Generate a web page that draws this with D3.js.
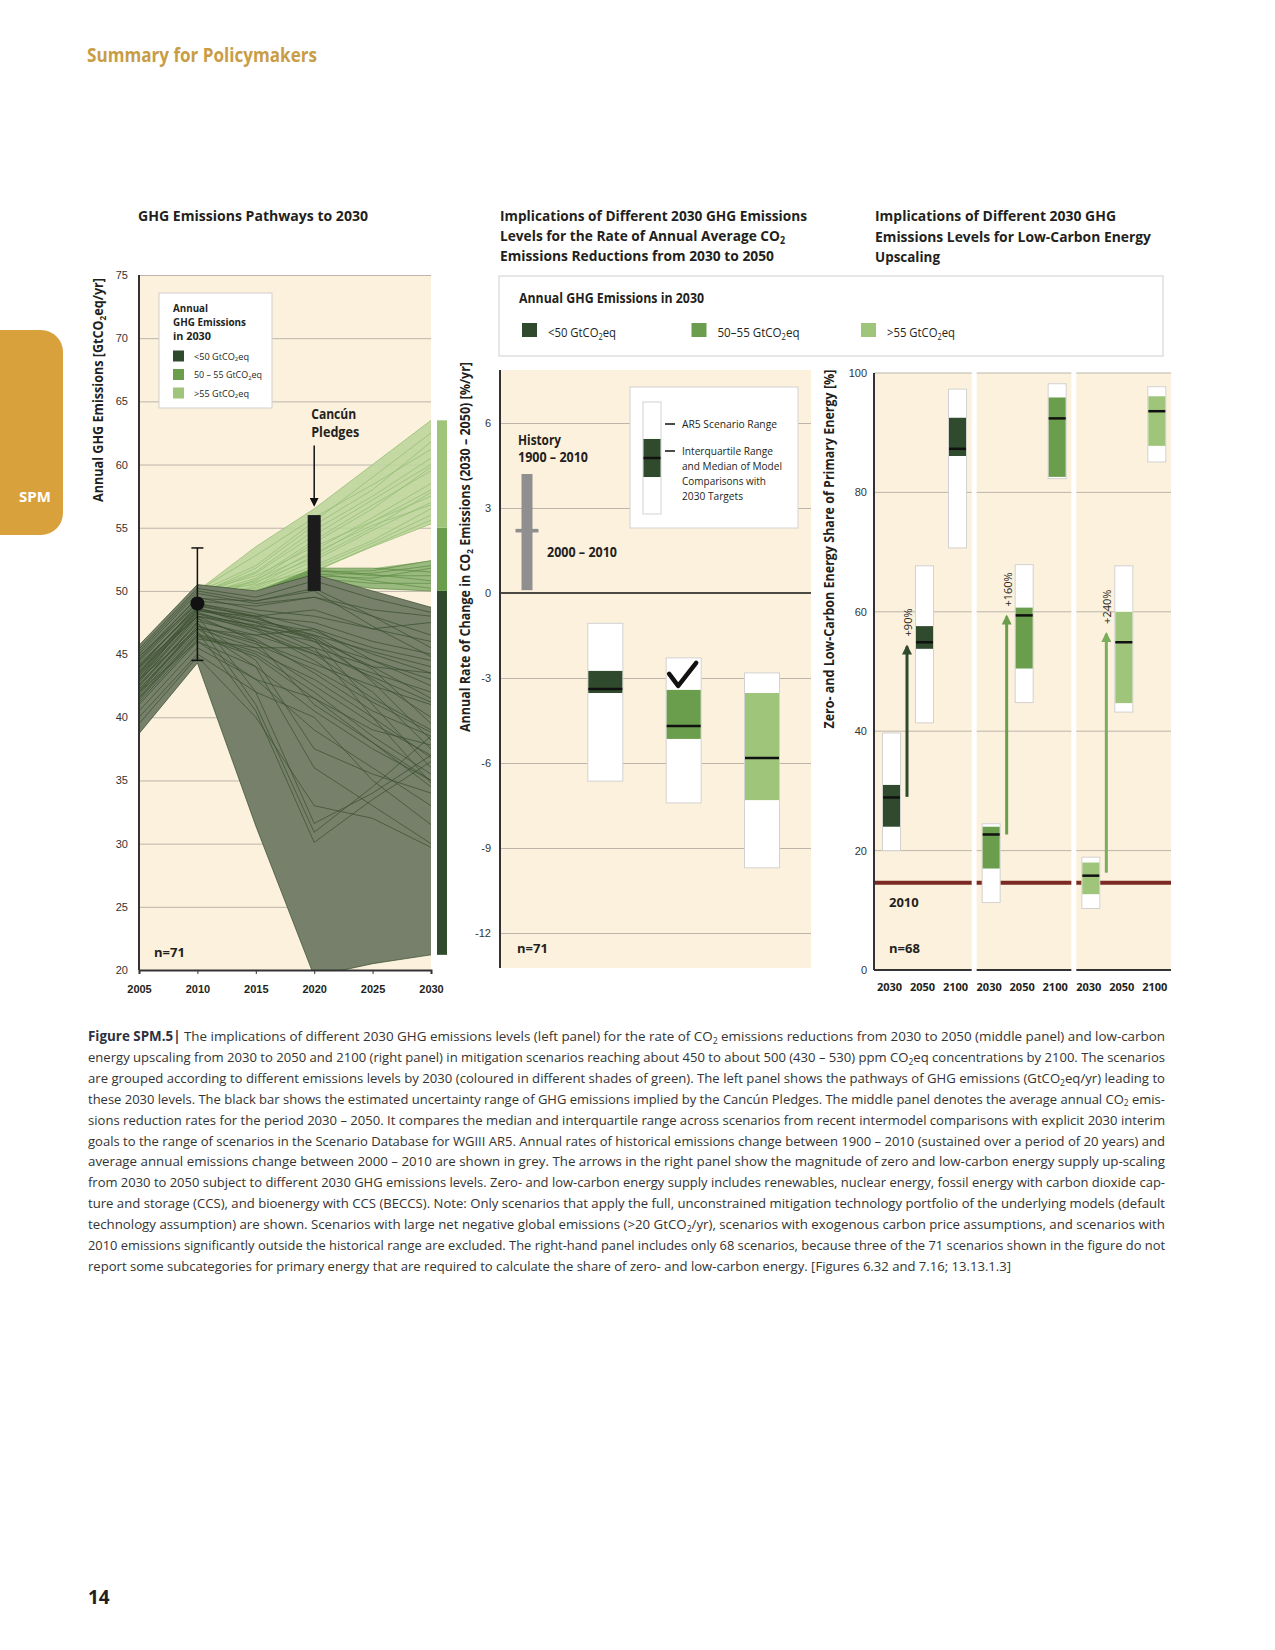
<!DOCTYPE html>
<html>
<head>
<meta charset="utf-8">
<script src="https://cdnjs.cloudflare.com/ajax/libs/d3/7.8.5/d3.min.js"></script>
<style>
  body { margin: 0; background: #fff; }
</style>
</head>
<body>
<div id="chart"></div>
<script>
// ---------- data ----------
var pathYears = [2005, 2010, 2015, 2020, 2025, 2030];

// scenarios with < 50 GtCO2eq in 2030
var darkRuns = [
  [38.7, 44.3, 31.4, 19.5, 20.5, 21.2],
  [45.7, 50.5, 50.0, 51.3, 50.0, 48.7],
  [44.5, 49.2, 48.8, 49.5, 48.0, 46.5],
  [44.0, 48.8, 48.0, 47.5, 46.0, 45.0],
  [43.5, 48.5, 47.5, 46.5, 45.2, 44.0],
  [43.0, 48.0, 47.0, 46.0, 44.5, 43.0],
  [42.5, 47.6, 46.5, 45.0, 43.5, 42.0],
  [42.0, 47.2, 46.0, 44.2, 42.5, 41.0],
  [44.8, 49.0, 48.0, 46.0, 43.0, 40.0],
  [43.8, 48.3, 47.0, 44.5, 41.5, 39.0],
  [42.8, 47.8, 46.2, 43.5, 40.5, 38.5],
  [42.2, 47.0, 45.5, 42.5, 39.5, 37.0],
  [41.5, 46.5, 45.0, 42.0, 38.5, 35.5],
  [41.0, 46.0, 44.0, 40.5, 37.5, 35.0],
  [43.2, 48.2, 46.8, 45.0, 42.0, 37.5],
  [44.2, 48.6, 47.8, 46.5, 43.8, 39.5],
  [42.6, 47.4, 44.5, 37.5, 35.5, 34.0],
  [43.6, 48.0, 42.0, 31.6, 34.0, 37.0],
  [42.4, 47.5, 41.0, 30.9, 34.5, 38.5],
  [41.8, 46.8, 40.5, 30.1, 33.5, 36.5],
  [43.0, 47.0, 44.0, 36.0, 33.0, 30.0],
  [44.6, 49.5, 48.5, 48.0, 47.0, 47.5],
  [45.0, 49.8, 49.0, 49.5, 48.5, 48.0],
  [43.4, 48.4, 48.0, 48.5, 47.0, 46.0],
  [42.0, 47.0, 46.5, 47.0, 45.5, 44.5],
  [41.2, 46.2, 45.5, 45.5, 44.0, 43.5],
  [44.0, 48.0, 46.0, 41.0, 38.0, 35.0],
  [43.0, 48.5, 47.5, 45.5, 40.0, 34.8],
  [42.0, 46.0, 43.0, 39.0, 36.0, 33.0],
  [40.0, 45.0, 42.0, 40.0, 35.0, 31.5],
  [40.5, 45.5, 43.0, 41.5, 38.0, 34.5],
  [44.4, 49.0, 48.2, 47.0, 44.5, 42.5],
  [43.6, 48.6, 47.6, 46.8, 45.0, 43.5],
  [42.8, 48.0, 47.3, 46.2, 44.0, 41.5],
  [45.2, 50.0, 49.2, 50.2, 48.0, 45.5],
  [41.6, 46.6, 45.2, 43.0, 40.0, 36.8],
  [44.8, 49.4, 49.2, 50.0, 47.2, 44.8],
  [43.3, 48.2, 47.2, 46.4, 42.8, 38.2],
  [42.2, 47.2, 45.8, 43.8, 41.2, 38.8],
  [45.4, 50.2, 49.5, 50.8, 49.4, 48.3],
  [39.5, 44.8, 40.0, 33.0, 32.0, 29.7],
  [43.9, 48.9, 47.9, 46.2, 41.0, 36.0],
  [41.4, 46.4, 44.8, 41.5, 39.0, 37.8],
  [44.1, 48.7, 47.1, 45.2, 43.2, 41.2]
];

// scenarios with 50-55 GtCO2eq in 2030
var midRuns = [
  [44.0, 49.5, 49.6, 51.5, 51.6, 52.4],
  [43.5, 49.0, 49.7, 51.2, 51.0, 51.8],
  [44.5, 49.8, 49.8, 51.6, 51.2, 51.2],
  [43.0, 48.5, 49.5, 51.0, 50.6, 50.6],
  [44.2, 49.3, 49.9, 51.4, 50.8, 50.2],
  [42.8, 48.2, 49.2, 50.8, 50.2, 50.0],
  [45.0, 50.0, 49.9, 51.8, 51.8, 51.5],
  [43.8, 49.1, 49.6, 51.3, 51.4, 52.0],
  [44.6, 49.6, 49.8, 51.7, 51.3, 50.8]
];

// scenarios with > 55 GtCO2eq in 2030
var lightRuns = [
  [45.0, 50.0, 53.5, 56.5, 60.0, 63.5],
  [44.8, 49.9, 52.0, 55.5, 59.0, 62.5],
  [44.5, 49.8, 51.5, 54.8, 57.5, 60.5],
  [44.0, 49.6, 51.0, 54.0, 56.8, 59.5],
  [44.3, 49.7, 50.8, 53.8, 56.5, 59.8],
  [43.8, 49.5, 50.6, 53.2, 55.8, 58.5],
  [43.5, 49.4, 50.4, 52.8, 55.5, 58.0],
  [44.6, 49.9, 51.2, 53.5, 55.5, 57.5],
  [43.2, 49.2, 50.3, 52.4, 54.8, 57.0],
  [44.1, 49.6, 50.2, 52.0, 54.0, 56.5],
  [43.0, 49.0, 50.0, 51.8, 53.8, 56.0],
  [44.9, 50.0, 50.5, 51.6, 53.5, 55.3],
  [43.6, 49.3, 50.1, 51.5, 53.6, 55.6],
  [44.4, 49.8, 50.7, 52.6, 55.0, 57.8],
  [43.9, 49.6, 51.4, 54.4, 57.2, 60.0],
  [44.7, 50.0, 52.8, 55.8, 58.4, 61.2],
  [43.3, 49.1, 50.9, 53.0, 55.2, 56.8],
  [44.2, 49.7, 51.8, 55.2, 58.0, 61.8]
];

var groupNames = ["<50 GtCO₂eq", "50 – 55 GtCO₂eq", ">55 GtCO₂eq"];
var groupBreaks = [50, 55];
var leftTicks = [20, 25, 30, 35, 40, 45, 50, 55, 60, 65, 70, 75];
var obs2010 = [44.5, 49.0, 53.4];   // low, central, high
var pledgeRange = [50, 56];

// middle panel: rate of change of CO2 emissions 2030-2050 [%/yr]
var rateCats = ["1900–2010", "<50", "50–55", ">55"];
var histRange = [0.1, 4.2];
var histMean = 2.2;
var rateMin = [-6.64, -7.41, -9.7];
var rateQ1 = [-3.53, -5.15, -7.31];
var rateMed = [-3.39, -4.69, -5.82];
var rateQ3 = [-2.75, -3.42, -3.53];
var rateMax = [-1.07, -2.29, -2.82];
var rateTicks = [-12, -9, -6, -3, 0, 3, 6];

// right panel: zero- and low-carbon share of primary energy [%]
var shareYears = ["2030", "2050", "2100"];
var shareMin = [[20.0, 41.4, 70.7], [11.3, 44.8, 82.3], [10.3, 43.2, 85.1]];
var shareQ1 = [[24.0, 53.8, 86.1], [17.0, 50.5, 82.6], [12.7, 44.7, 87.8]];
var shareMed = [[28.9, 54.9, 87.3], [22.7, 59.4, 92.4], [15.8, 54.9, 93.6]];
var shareQ3 = [[31.0, 57.6, 92.5], [24.0, 60.7, 95.9], [18.0, 60.0, 96.1]];
var shareMax = [[39.7, 67.7, 97.3], [24.5, 67.9, 98.2], [18.9, 67.7, 97.7]];
var arrowFrom = [29.0, 22.7, 16.3];
var arrowTo = [54.2, 59.2, 56.3];
var arrowLabels = ["+90%", "+160%", "+240%"];
var share2010 = 14.6;
var shareTicks = [0, 20, 40, 60, 80, 100];

var captionLines = [
  "The implications of different 2030 GHG emissions levels (left panel) for the rate of CO₂ emissions reductions from 2030 to 2050 (middle panel) and low-carbon",
  "energy upscaling from 2030 to 2050 and 2100 (right panel) in mitigation scenarios reaching about 450 to about 500 (430 – 530) ppm CO₂eq concentrations by 2100. The scenarios",
  "are grouped according to different emissions levels by 2030 (coloured in different shades of green). The left panel shows the pathways of GHG emissions (GtCO₂eq/yr) leading to",
  "these 2030 levels. The black bar shows the estimated uncertainty range of GHG emissions implied by the Cancún Pledges. The middle panel denotes the average annual CO₂ emis-",
  "sions reduction rates for the period 2030 – 2050. It compares the median and interquartile range across scenarios from recent intermodel comparisons with explicit 2030 interim",
  "goals to the range of scenarios in the Scenario Database for WGIII AR5. Annual rates of historical emissions change between 1900 – 2010 (sustained over a period of 20 years) and",
  "average annual emissions change between 2000 – 2010 are shown in grey. The arrows in the right panel show the magnitude of zero and low-carbon energy supply up-scaling",
  "from 2030 to 2050 subject to different 2030 GHG emissions levels. Zero- and low-carbon energy supply includes renewables, nuclear energy, fossil energy with carbon dioxide cap-",
  "ture and storage (CCS), and bioenergy with CCS (BECCS). Note: Only scenarios that apply the full, unconstrained mitigation technology portfolio of the underlying models (default",
  "technology assumption) are shown. Scenarios with large net negative global emissions (>20 GtCO₂/yr), scenarios with exogenous carbon price assumptions, and scenarios with",
  "2010 emissions significantly outside the historical range are excluded. The right-hand panel includes only 68 scenarios, because three of the 71 scenarios shown in the figure do not",
  "report some subcategories for primary energy that are required to calculate the share of zero- and low-carbon energy. [Figures 6.32 and 7.16; 13.13.1.3]"
];

// ---------- styles ----------
var cream = "#fcf1dc";
var gridCol = "#bdb5ac";
var ink = "#231f20";
var groupColors = ["#2f4a2d", "#6b9e4c", "#9fc57b"];
var fillColors = ["#76806a", "#8fb273", "#bcd59c"];
var lineColors = ["#3b5030", "#5e8d44", "#93bc72"];

var svg = d3.select("#chart").append("svg")
  .attr("width", 1275)
  .attr("height", 1650)
  .style("font-family", "'Liberation Sans Narrow', 'Open Sans', 'Noto Sans', sans-serif");

var defs = svg.append("defs");

// squeeze text to the width it has in the print
function fit(sel, len) {
  return sel.attr("textLength", len).attr("lengthAdjust", "spacingAndGlyphs");
}

// text with subscript 2 (written as ₂ in the strings)
function rich(sel, str, fs) {
  str.split("₂").forEach(function(part, i) {
    if (i > 0) {
      sel.append("tspan").attr("font-size", fs * 0.65).attr("dy", fs * 0.2).text("2");
      sel.append("tspan").attr("dy", -fs * 0.2).text(part);
    } else {
      sel.append("tspan").text(part);
    }
  });
  return sel;
}

function txt(parent, x, y, str, fs, weight) {
  var t = parent.append("text")
    .attr("x", x)
    .attr("y", y)
    .attr("font-size", fs)
    .attr("font-weight", weight || 400)
    .attr("fill", ink);
  return rich(t, str, fs);
}

function vlabel(parent, x, y, str, fs, len) {
  var t = parent.append("text")
    .attr("transform", `translate(${x}, ${y}) rotate(-90)`)
    .attr("text-anchor", "middle")
    .attr("dy", "0.35em")
    .attr("font-size", fs)
    .attr("font-weight", 700)
    .attr("fill", ink);
  rich(t, str, fs);
  return fit(t, len);
}

function arrowMarker(id, color, w, h) {
  defs.append("marker")
    .attr("id", id)
    .attr("viewBox", "0 0 10 10")
    .attr("refX", 8)
    .attr("refY", 5)
    .attr("markerUnits", "userSpaceOnUse")
    .attr("markerWidth", w)
    .attr("markerHeight", h)
    .attr("orient", "auto")
    .append("path")
    .attr("d", "M0,0 L10,5 L0,10 z")
    .attr("fill", color);
}

// ---------- page furniture ----------
fit(txt(svg, 87, 62, "Summary for Policymakers", 19, 700).attr("fill", "#c89d45"), 230);

svg.append("rect")
  .attr("x", -25).attr("y", 330)
  .attr("width", 88).attr("height", 205)
  .attr("rx", 22)
  .attr("fill", "#d9a13c");
svg.append("text")
  .attr("x", 35).attr("y", 502)
  .attr("text-anchor", "middle")
  .attr("fill", "#fff")
  .attr("font-size", 15)
  .attr("font-weight", 700)
  .text("SPM");

txt(svg, 88, 1604, "14", 19, 700);

// ============ LEFT PANEL: pathways ============
var xLeft = d3.scaleLinear().domain([2005, 2030]).range([139, 431]);
var yLeft = d3.scaleLinear().domain([20, 75]).range([970, 275]);

var left = svg.append("g");

fit(txt(left, 138, 221, "GHG Emissions Pathways to 2030", 15, 700), 230);

left.append("rect")
  .attr("x", xLeft(2005)).attr("y", yLeft(75))
  .attr("width", xLeft(2030) - xLeft(2005))
  .attr("height", yLeft(20) - yLeft(75))
  .attr("fill", cream);

// gridlines
left.append("g")
  .attr("transform", `translate(${xLeft(2005)}, 0)`)
  .call(d3.axisLeft(yLeft).tickValues(leftTicks.slice(1)).tickSize(-(xLeft(2030) - xLeft(2005))).tickFormat(""))
  .call(g => g.select(".domain").remove())
  .selectAll("line").attr("stroke", gridCol);

// y tick labels
left.append("g")
  .attr("transform", `translate(${xLeft(2005)}, 0)`)
  .call(d3.axisLeft(yLeft).tickValues(leftTicks).tickSize(0).tickPadding(11).tickFormat(String))
  .call(g => g.select(".domain").remove())
  .selectAll("text").attr("font-size", 11).attr("font-family", null).attr("fill", "#333");

defs.append("clipPath").attr("id", "leftClip")
  .append("rect")
  .attr("x", xLeft(2005)).attr("y", yLeft(75))
  .attr("width", xLeft(2030) - xLeft(2005))
  .attr("height", yLeft(20) - yLeft(75));

var runLine = d3.line()
  .x((d, i) => xLeft(pathYears[i]))
  .y(d => yLeft(d));

function envelopePath(runs) {
  var hi = pathYears.map((yr, i) => [yr, d3.max(runs, r => r[i])]);
  var lo = pathYears.map((yr, i) => [yr, d3.min(runs, r => r[i])]).reverse();
  return d3.line().x(d => xLeft(d[0])).y(d => yLeft(d[1]))(hi.concat(lo)) + "Z";
}

var pathsG = left.append("g").attr("clip-path", "url(#leftClip)");
var runGroups = [darkRuns, midRuns, lightRuns];
// draw light first so the darker bundles sit on top
[2, 1, 0].forEach(function(k) {
  pathsG.append("path")
    .attr("d", envelopePath(runGroups[k]))
    .attr("fill", fillColors[k])
    .attr("fill-opacity", k === 0 ? 1 : 0.9);
  pathsG.selectAll(".run" + k)
    .data(runGroups[k])
    .enter()
    .append("path")
    .attr("class", "run" + k)
    .attr("d", runLine)
    .attr("fill", "none")
    .attr("stroke", lineColors[k])
    .attr("stroke-width", 0.8)
    .attr("stroke-opacity", 0.9);
});

// axes lines
left.append("line")
  .attr("x1", xLeft(2005)).attr("x2", xLeft(2005))
  .attr("y1", yLeft(75)).attr("y2", yLeft(20))
  .attr("stroke", "#333").attr("stroke-width", 2);

left.append("g")
  .attr("transform", `translate(0, ${yLeft(20)})`)
  .call(d3.axisBottom(xLeft).tickValues(pathYears).tickSize(4).tickPadding(11).tickFormat(String))
  .call(g => g.select(".domain").attr("stroke", "#333").attr("stroke-width", 2))
  .call(g => g.selectAll("line").attr("stroke", "#333"))
  .selectAll("text").attr("font-size", 11).attr("font-weight", 700).attr("font-family", null).attr("fill", ink);

// colour bar of 2030 levels at the right edge
var end2030 = runGroups.map(r => r.map(v => v[5]));
var barSegs = [
  [d3.min(end2030[0]), groupBreaks[0]],
  [groupBreaks[0], groupBreaks[1]],
  [groupBreaks[1], d3.max(end2030[2])]
];
left.selectAll(".seg")
  .data(barSegs)
  .enter()
  .append("rect")
  .attr("x", xLeft(2030) + 6)
  .attr("width", 10)
  .attr("y", d => yLeft(d[1]))
  .attr("height", d => yLeft(d[0]) - yLeft(d[1]))
  .attr("fill", (d, i) => groupColors[i]);

// 2010 observation with uncertainty
var ex = xLeft(2010);
left.append("line")
  .attr("x1", ex).attr("x2", ex)
  .attr("y1", yLeft(obs2010[0])).attr("y2", yLeft(obs2010[2]))
  .attr("stroke", "#111").attr("stroke-width", 1.5);
[obs2010[0], obs2010[2]].forEach(function(v) {
  left.append("line")
    .attr("x1", ex - 6).attr("x2", ex + 6)
    .attr("y1", yLeft(v)).attr("y2", yLeft(v))
    .attr("stroke", "#111").attr("stroke-width", 1.5);
});
left.append("circle")
  .attr("cx", ex).attr("cy", yLeft(obs2010[1]))
  .attr("r", 7)
  .attr("fill", "#111");

// Cancun pledges bar
var px = xLeft(2020);
left.append("rect")
  .attr("x", px - 6.5).attr("width", 13)
  .attr("y", yLeft(pledgeRange[1]))
  .attr("height", yLeft(pledgeRange[0]) - yLeft(pledgeRange[1]))
  .attr("fill", "#1c1c1c");
arrowMarker("headBlack", "#111", 9, 9);
left.append("line")
  .attr("x1", px).attr("x2", px)
  .attr("y1", yLeft(pledgeRange[1] + 5.5)).attr("y2", yLeft(pledgeRange[1] + 0.8))
  .attr("stroke", "#111").attr("stroke-width", 1.5)
  .attr("marker-end", "url(#headBlack)");
fit(txt(left, px - 3, yLeft(pledgeRange[1] + 5.5) - 27, "Cancún", 14, 700), 45);
fit(txt(left, px - 3, yLeft(pledgeRange[1] + 5.5) - 9, "Pledges", 14, 700), 48);

txt(left, 154, 957, "n=71", 13, 700);

vlabel(left, 98, 390, "Annual GHG Emissions [GtCO₂eq/yr]", 14, 224);

// small legend
var lg = left.append("g");
lg.append("rect")
  .attr("x", 159).attr("y", 293)
  .attr("width", 113).attr("height", 115)
  .attr("fill", "#fff")
  .attr("stroke", "#cfcfcf");
fit(txt(lg, 173, 312, "Annual", 10.5, 700), 35);
fit(txt(lg, 173, 326, "GHG Emissions", 10.5, 700), 73);
fit(txt(lg, 173, 340, "in 2030", 10.5, 700), 38);
groupNames.forEach(function(name, i) {
  var cy = 356 + i * 18.5;
  lg.append("rect")
    .attr("x", 173).attr("y", cy - 5.5)
    .attr("width", 11).attr("height", 11)
    .attr("fill", groupColors[i]);
  fit(txt(lg, 194, cy + 3.5, name, 9.5, 400), i === 1 ? 68 : 55);
});

// ============ MIDDLE PANEL: reduction rates ============
var midTop = 370, midBottom = 968, midLeft = 500, midRight = 811;
var yMid = d3.scaleLinear().domain([-12, 6]).range([933, 423]);
var xMid = d3.scalePoint().domain(rateCats).range([527, 762]);

var mid = svg.append("g");

fit(txt(mid, 500, 221, "Implications of Different 2030 GHG Emissions", 15, 700), 307);
fit(txt(mid, 500, 241, "Levels for the Rate of Annual Average CO₂", 15, 700), 285);
fit(txt(mid, 500, 261, "Emissions Reductions from 2030 to 2050", 15, 700), 274);

mid.append("rect")
  .attr("x", midLeft).attr("y", midTop)
  .attr("width", midRight - midLeft).attr("height", midBottom - midTop)
  .attr("fill", cream);

mid.append("g")
  .attr("transform", `translate(${midLeft}, 0)`)
  .call(d3.axisLeft(yMid).tickValues(rateTicks.filter(d => d !== 0)).tickSize(-(midRight - midLeft)).tickFormat(""))
  .call(g => g.select(".domain").remove())
  .selectAll("line").attr("stroke", gridCol);

mid.append("g")
  .attr("transform", `translate(${midLeft}, 0)`)
  .call(d3.axisLeft(yMid).tickValues(rateTicks).tickSize(0).tickPadding(9).tickFormat(String))
  .call(g => g.select(".domain").remove())
  .selectAll("text").attr("font-size", 11).attr("font-family", null).attr("fill", "#333");

mid.append("line")
  .attr("x1", midLeft).attr("x2", midRight)
  .attr("y1", yMid(0)).attr("y2", yMid(0))
  .attr("stroke", "#111").attr("stroke-width", 1.6);

mid.append("line")
  .attr("x1", midLeft).attr("x2", midLeft)
  .attr("y1", midTop).attr("y2", midBottom)
  .attr("stroke", "#333").attr("stroke-width", 2);

// history bar
var hx = xMid(rateCats[0]);
mid.append("rect")
  .attr("x", hx - 5.5).attr("width", 11)
  .attr("y", yMid(histRange[1]))
  .attr("height", yMid(histRange[0]) - yMid(histRange[1]))
  .attr("fill", "#8f8f8f");
mid.append("rect")
  .attr("x", hx - 11.5).attr("width", 23)
  .attr("y", yMid(histMean) - 1.8).attr("height", 3.6)
  .attr("fill", "#8f8f8f");
fit(txt(mid, 518, 445, "History", 13.5, 700), 43);
fit(txt(mid, 518, 462, "1900 – 2010", 13.5, 700), 70);
fit(txt(mid, 547, 557, "2000 – 2010", 13.5, 700), 70);

// scenario boxes
function drawBox(g, cx, w, yS, lo, q1, med, q3, hi, color) {
  g.append("rect")
    .attr("x", cx - w / 2).attr("width", w)
    .attr("y", yS(hi)).attr("height", yS(lo) - yS(hi))
    .attr("fill", "#fff")
    .attr("stroke", "#d2d2d2");
  g.append("rect")
    .attr("x", cx - w / 2 + 0.5).attr("width", w - 1)
    .attr("y", yS(q3)).attr("height", yS(q1) - yS(q3))
    .attr("fill", color);
  g.append("line")
    .attr("x1", cx - w / 2 + 0.5).attr("x2", cx + w / 2 - 0.5)
    .attr("y1", yS(med)).attr("y2", yS(med))
    .attr("stroke", "#111").attr("stroke-width", 2.5);
}

rateCats.slice(1).forEach(function(c, i) {
  drawBox(mid, xMid(c), 35, yMid, rateMin[i], rateQ1[i], rateMed[i], rateQ3[i], rateMax[i], groupColors[i]);
});

// check mark on the 50-55 box
var ckx = xMid(rateCats[2]) - 17.5, cky = yMid(rateMax[1]);
mid.append("path")
  .attr("d", `M${ckx + 3},${cky + 16} L${ckx + 12},${cky + 28} L${ckx + 30},${cky + 5}`)
  .attr("fill", "none")
  .attr("stroke", "#111")
  .attr("stroke-width", 4.5)
  .attr("stroke-linecap", "round")
  .attr("stroke-linejoin", "round");

// inner legend
var ml = mid.append("g");
ml.append("rect")
  .attr("x", 630).attr("y", 387)
  .attr("width", 168).attr("height", 141)
  .attr("fill", "#fff")
  .attr("stroke", "#d2d2d2");
var yLeg = d3.scaleLinear().domain([0, 1]).range([514, 402]);
drawBox(ml, 652, 18, yLeg, 0, 0.33, 0.5, 0.67, 1, groupColors[0]);
[428, 455].forEach(function(y) {
  ml.append("line")
    .attr("x1", 665).attr("x2", 675)
    .attr("y1", y - 4).attr("y2", y - 4)
    .attr("stroke", "#111").attr("stroke-width", 1.5);
});
fit(txt(ml, 682, 428, "AR5 Scenario Range", 11.5, 400), 95);
fit(txt(ml, 682, 455, "Interquartile Range", 11.5, 400), 91);
fit(txt(ml, 682, 470, "and Median of Model", 11.5, 400), 100);
fit(txt(ml, 682, 485, "Comparisons with", 11.5, 400), 84);
fit(txt(ml, 682, 500, "2030 Targets", 11.5, 400), 61);

txt(mid, 517, 953, "n=71", 13, 700);

vlabel(mid, 465, 547, "Annual Rate of Change in CO₂ Emissions (2030 – 2050) [%/yr]", 14, 370);

// shared legend for middle and right panels
var sl = svg.append("g");
sl.append("rect")
  .attr("x", 499).attr("y", 276)
  .attr("width", 664).attr("height", 80)
  .attr("fill", "#fff")
  .attr("stroke", "#cfcfcf");
fit(txt(sl, 519, 303, "Annual GHG Emissions in 2030", 13.5, 700), 185);
var legX = d3.scalePoint().domain(groupNames).range([522, 861]);
groupNames.forEach(function(name, i) {
  sl.append("rect")
    .attr("x", legX(name)).attr("y", 323)
    .attr("width", 15).attr("height", 14)
    .attr("fill", groupColors[i]);
  fit(txt(sl, legX(name) + 26, 337, name.replace(/ – /, "–"), 12.5, 400), i === 1 ? 82 : 68);
});

// ============ RIGHT PANEL: low-carbon share ============
var groups = ["g0", "g1", "g2"];
var yRight = d3.scaleLinear().domain([0, 100]).range([970, 373]);
var xGroup = d3.scaleBand().domain(groups).range([877, 1171]).paddingInner(0.05);
var xYear = d3.scalePoint().domain(shareYears).range([14.5, 80.5]);
var axisX = 874;

var right = svg.append("g");

fit(txt(right, 875, 221, "Implications of Different 2030 GHG", 15, 700), 241);
fit(txt(right, 875, 242, "Emissions Levels for Low-Carbon Energy", 15, 700), 276);
fit(txt(right, 875, 262, "Upscaling", 15, 700), 65);

arrowMarker("head0", groupColors[0], 11, 10);
arrowMarker("head1", groupColors[1], 11, 10);
arrowMarker("head2", "#7aad5c", 11, 10);

groups.forEach(function(g, k) {
  var x0 = k === 0 ? axisX : xGroup(g);
  var x1 = xGroup(g) + xGroup.bandwidth();
  var pg = right.append("g");

  pg.append("rect")
    .attr("x", x0).attr("y", yRight(100))
    .attr("width", x1 - x0).attr("height", yRight(0) - yRight(100))
    .attr("fill", cream);

  shareTicks.slice(1).forEach(function(t) {
    pg.append("line")
      .attr("x1", x0).attr("x2", x1)
      .attr("y1", yRight(t)).attr("y2", yRight(t))
      .attr("stroke", gridCol);
  });

  pg.append("line")
    .attr("x1", x0).attr("x2", x1)
    .attr("y1", yRight(share2010)).attr("y2", yRight(share2010))
    .attr("stroke", "#7a2a22").attr("stroke-width", 4);

  pg.append("line")
    .attr("x1", x0).attr("x2", x1)
    .attr("y1", yRight(0)).attr("y2", yRight(0))
    .attr("stroke", "#333").attr("stroke-width", 2);

  shareYears.forEach(function(yr, j) {
    var cx = xGroup(g) + xYear(yr);
    drawBox(pg, cx, 18, yRight, shareMin[k][j], shareQ1[k][j], shareMed[k][j], shareQ3[k][j], shareMax[k][j], groupColors[k]);
    pg.append("text")
      .attr("x", cx - 2).attr("y", 991)
      .attr("text-anchor", "middle")
      .attr("font-size", 11)
      .attr("font-weight", 700)
      .attr("fill", ink)
      .text(yr);
  });

  // upscaling arrow 2030 -> 2050
  var ax = xGroup(g) + (xYear(shareYears[0]) + xYear(shareYears[1])) / 2 - 1;
  pg.append("line")
    .attr("x1", ax).attr("x2", ax)
    .attr("y1", yRight(arrowFrom[k])).attr("y2", yRight(arrowTo[k]))
    .attr("stroke", k === 2 ? "#7aad5c" : groupColors[k])
    .attr("stroke-width", 3)
    .attr("marker-end", `url(#head${k})`);
  pg.append("text")
    .attr("transform", `translate(${ax + 1}, ${yRight(arrowTo[k]) - 10}) rotate(-90)`)
    .attr("dy", "0.35em")
    .attr("font-size", 11)
    .attr("fill", ink)
    .text(arrowLabels[k]);
});

right.append("g")
  .attr("transform", `translate(${axisX}, 0)`)
  .call(d3.axisLeft(yRight).tickValues(shareTicks).tickSize(0).tickPadding(7).tickFormat(String))
  .call(g => g.select(".domain").remove())
  .selectAll("text").attr("font-size", 11).attr("font-family", null).attr("fill", "#333");

right.append("line")
  .attr("x1", axisX).attr("x2", axisX)
  .attr("y1", yRight(100)).attr("y2", yRight(0))
  .attr("stroke", "#333").attr("stroke-width", 2);

txt(right, 889, 907, "2010", 13, 700);
txt(right, 889, 953, "n=68", 13, 700);

vlabel(right, 829, 549, "Zero- and Low-Carbon Energy Share of Primary Energy [%]", 14, 359);

// ============ caption ============
captionLines.forEach(function(line, i) {
  var t = svg.append("text")
    .attr("x", 88)
    .attr("y", 1041 + i * 20.9)
    .attr("font-size", 13.5)
    .attr("fill", "#333");
  if (i === 0) {
    t.append("tspan").attr("font-weight", 700).attr("fill", "#2d3142").text("Figure SPM.5| ");
  }
  rich(t, line, 13.5);
  fit(t, i < captionLines.length - 1 ? 1077 : 923);
});
</script>
</body>
</html>
